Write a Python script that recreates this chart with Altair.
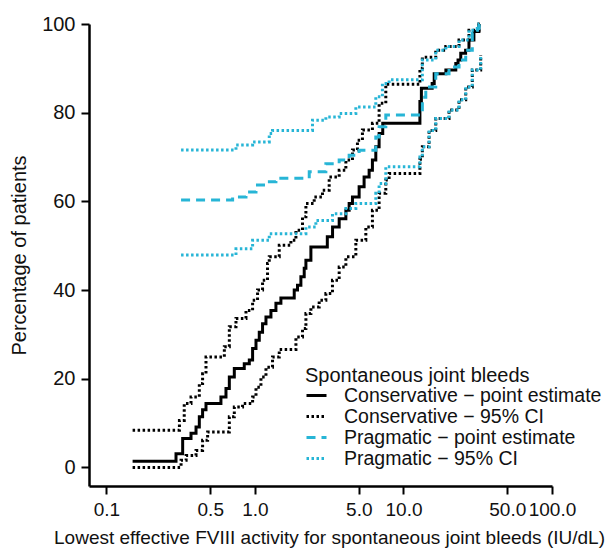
import altair as alt
import pandas as pd

# Conservative - point estimate
cons_pt_x = [0.150, 0.294, 0.326, 0.371, 0.401, 0.422, 0.444, 0.468, 0.590, 0.638,
             0.672, 0.726, 0.847, 0.916, 0.964, 1.016, 1.069, 1.125, 1.186, 1.281,
             1.384, 1.495, 1.838, 1.934, 2.038, 2.146, 2.203, 2.380, 3.070, 3.330,
             3.690, 4.093, 4.307, 4.534, 5.028, 5.430, 5.870, 6.178, 6.511, 6.853,
             7.250, 12.90, 13.20, 15.60, 16.10, 19.30, 22.50, 23.30, 24.30, 26.20,
             27.60, 29.80, 32.20, 32.6]
cons_pt_y = [1.4, 3.1, 6.5, 7.7, 9.1, 11.4, 13.0, 14.4, 15.9, 17.8,
             20.4, 22.3, 23.4, 24.2, 26.8, 28.7, 30.5, 32.4, 33.9, 35.4,
             37.0, 38.2, 40.0, 41.1, 43.0, 44.9, 46.7, 49.7, 52.0, 54.2,
             56.1, 58.0, 59.5, 61.0, 63.3, 65.5, 67.0, 69.3, 72.3, 75.3,
             77.6, 82.5, 85.5, 86.6, 88.8, 89.6, 91.1, 91.9, 93.4, 94.1,
             96.4, 98.3, 100.0, 100.0]

# Conservative - 95% CI (upper)
cons_hi_x = [0.150, 0.310, 0.334, 0.371, 0.422, 0.444, 0.468, 0.622, 0.672, 0.745,
             0.870, 0.964, 1.041, 1.125, 1.215, 1.248, 1.457, 1.746, 1.887, 2.090,
             2.203, 2.505, 2.848, 3.160, 3.690, 4.093, 4.534, 4.898, 5.292, 6.178,
             6.853, 7.603, 12.90, 13.40, 16.49, 19.26, 23.66, 27.61, 32.24, 32.6]
cons_hi_y = [8.4, 10.6, 14.4, 15.9, 18.9, 21.1, 24.9, 27.2, 31.7, 33.6,
             35.4, 37.7, 40.0, 42.2, 46.0, 47.5, 50.1, 51.2, 53.5, 56.5,
             59.5, 61.0, 62.5, 65.5, 67.0, 69.3, 71.6, 73.8, 76.1, 77.6,
             82.1, 86.4, 90.0, 92.5, 94.1, 94.9, 96.4, 98.6, 100.0, 100.0]

# Conservative - 95% CI (lower)
cons_lo_x = [0.150, 0.318, 0.344, 0.401, 0.444, 0.480, 0.672, 0.726, 0.825, 0.964,
             1.016, 1.097, 1.186, 1.313, 1.457, 1.887, 2.090, 2.203, 2.380, 2.706,
             3.002, 3.325, 3.690, 4.093, 4.778, 5.578, 6.178, 6.853, 7.603, 8.002,
             12.90, 13.40, 14.87, 16.49, 20.26, 23.66, 26.24, 29.07, 33.1]
cons_lo_y = [0.0, 1.6, 2.7, 3.8, 6.1, 8.0, 11.4, 13.6, 14.4, 15.9,
             18.1, 20.4, 22.6, 24.9, 26.6, 29.4, 31.3, 34.7, 36.2, 37.7,
             39.2, 42.2, 45.2, 47.5, 51.2, 54.2, 58.0, 61.8, 64.8, 66.3,
             69.5, 72.3, 76.0, 78.7, 80.6, 82.9, 85.8, 89.6, 93.0]

# Pragmatic - point estimate
prag_pt_x = [0.318, 0.707, 0.870, 1.016, 1.186, 1.384, 2.320, 3.002, 3.690, 4.307,
             5.028, 6.511, 6.853, 7.603, 13.40, 14.13, 16.49, 20.26, 23.66, 26.24,
             29.07, 31.41, 32.24, 32.6]
prag_pt_y = [60.3, 61.0, 62.1, 63.7, 64.4, 65.2, 66.7, 68.5, 69.3, 70.4,
             71.5, 74.5, 76.8, 79.5, 83.5, 85.8, 88.8, 90.3, 91.9, 94.1,
             97.9, 99.0, 100.0, 100.0]

# Pragmatic - 95% CI (upper)
prag_hi_x = [0.318, 0.745, 0.964, 1.248, 1.313, 2.440, 3.002, 3.690, 4.778, 6.511,
             7.212, 8.002, 13.40, 16.49, 19.26, 23.66, 27.61, 32.24, 32.6]
prag_hi_y = [71.6, 72.7, 73.4, 75.3, 76.0, 78.3, 79.0, 79.8, 81.3, 83.6,
             86.6, 87.4, 91.9, 94.1, 94.9, 96.4, 98.6, 100.0, 100.0]

# Pragmatic - 95% CI (lower)
prag_lo_x = [0.318, 0.745, 0.964, 1.248, 2.203, 2.571, 3.325, 4.093, 4.778, 6.511,
             6.853, 7.603, 12.90, 13.40, 14.87, 16.49, 20.26, 23.66, 26.24, 29.07,
             33.1]
prag_lo_y = [47.9, 49.3, 51.2, 52.7, 54.2, 55.7, 57.2, 58.4, 59.5, 61.8,
             64.0, 67.8, 70.0, 72.3, 76.0, 78.7, 80.6, 82.9, 85.8, 89.6,
             93.0]

series_names = ["Conservative − point estimate", "Conservative − 95% CI",
                "Pragmatic − point estimate", "Pragmatic − 95% CI"]
series_colors = ["#000000", "#000000", "#27B5D6", "#27B5D6"]
series_dashes = [[1, 0], [2.5, 2.5], [9, 6], [2.5, 2.5]]

x_ticks = [0.1, 0.5, 1, 5, 10, 50, 100]
y_ticks = [0, 20, 40, 60, 80, 100]

lines = [
    ("c_pt", series_names[0], cons_pt_x, cons_pt_y),
    ("c_hi", series_names[1], cons_hi_x, cons_hi_y),
    ("c_lo", series_names[1], cons_lo_x, cons_lo_y),
    ("p_pt", series_names[2], prag_pt_x, prag_pt_y),
    ("p_hi", series_names[3], prag_hi_x, prag_hi_y),
    ("p_lo", series_names[3], prag_lo_x, prag_lo_y),
]
rows = []
for lid, name, xs, ys in lines:
    for xv, yv in zip(xs, ys):
        rows.append({"line": lid, "series": name, "x": xv, "y": yv})
df = pd.DataFrame(rows)

legend = alt.Legend(
    title="Spontaneous joint bleeds", orient="none", legendX=216, legendY=342,
    titleFontSize=20, titleFontWeight="normal", titleColor="#111111",
    labelFontSize=19.5, labelColor="#111111", symbolType="stroke",
    symbolSize=400, symbolStrokeWidth=3, labelOffset=16, rowPadding=-4,
    titlePadding=-2, padding=0, labelLimit=0, titleLimit=0,
)

chart = alt.Chart(df).mark_line(interpolate="step-after", strokeWidth=3).encode(
    x=alt.X("x:Q",
            scale=alt.Scale(type="log", domain=[0.0763, 100], nice=False),
            axis=alt.Axis(values=x_ticks, format=".1f", labelOverlap=False,
                          labelFlush=False, labelFontSize=19,
                          title="Lowest effective FVIII activity for spontaneous joint bleeds (IU/dL)",
                          titleFontSize=19, titlePadding=9, titleX=240)),
    y=alt.Y("y:Q",
            scale=alt.Scale(domain=[-4.2, 100], nice=False, zero=False),
            axis=alt.Axis(values=y_ticks, title="Percentage of patients",
                          labelFlush=False, labelFontSize=20, titleFontSize=20,
                          titlePadding=12)),
    color=alt.Color("series:N",
                    scale=alt.Scale(domain=series_names, range=series_colors),
                    legend=legend),
    strokeDash=alt.StrokeDash("series:N",
                              scale=alt.Scale(domain=series_names, range=series_dashes),
                              legend=legend),
    detail="line:N",
).properties(
    width=463, height=462,
    autosize=alt.AutoSizeParams(type="none"),
    padding={"left": 81, "top": 16, "right": 55, "bottom": 63},
).configure(
    font="Liberation Sans",
).configure_view(
    stroke=None,
).configure_axis(
    grid=False, domainColor="#000000", domainWidth=2.5, tickColor="#000000",
    tickWidth=2, tickSize=8, labelColor="#111111",
    titleColor="#111111", titleFontWeight="normal", labelPadding=6,
)

chart.save("out.html", embed_options={"renderer": "svg", "actions": False})
